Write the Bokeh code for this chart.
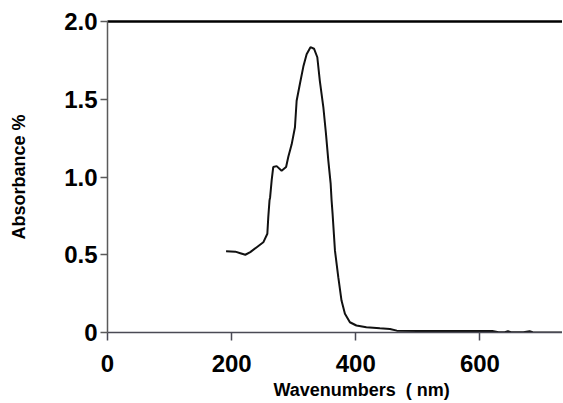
from bokeh.plotting import figure
from bokeh.models import Range1d, FixedTicker, LinearAxis, Title
from bokeh.embed import file_html
from bokeh.resources import INLINE

# Spectrum data
wavelength = [191, 206, 214, 222, 230, 241, 251, 257.5, 259, 261, 262, 264.5, 267,
              272.5, 280.5, 287.7, 291.3, 296.7, 302, 304.7, 310, 315.5, 320.8, 327,
              332.7, 338, 342, 347.7, 351.9, 355.7, 359.5, 361, 362.6, 366.4, 371.8,
              377, 382.5, 390.5, 401, 417, 438.8, 455, 466, 500, 560, 620, 630, 640,
              645, 650, 670, 680, 685, 690, 733]
absorbance = [0.523, 0.52, 0.51, 0.50, 0.517, 0.55, 0.58, 0.635, 0.74, 0.85, 0.87, 0.98,
              1.064, 1.07, 1.04, 1.064, 1.13, 1.21, 1.32, 1.49, 1.60, 1.71, 1.79, 1.835,
              1.825, 1.77, 1.62, 1.45, 1.28, 1.107, 0.957, 0.85, 0.764, 0.528, 0.356,
              0.205, 0.12, 0.066, 0.045, 0.034, 0.027, 0.023, 0.012, 0.01, 0.01, 0.01,
              0.002, 0.002, 0.008, 0.002, 0.002, 0.008, 0.002, 0.0, 0.0]

x_ticks = [0, 200, 400, 600]
y_ticks = [0, 0.5, 1.0, 1.5, 2.0]
y_tick_labels = ["0", "0.5", "1.0", "1.5", "2.0"]

FONT = "Liberation Sans"

p = figure(width=562, height=403, output_backend="svg", toolbar_location=None,
           x_range=Range1d(0, 733), y_range=Range1d(0, 2.0),
           min_border_left=107, min_border_right=0, min_border_top=21,
           min_border_bottom=71)
p.outline_line_color = None
p.xgrid.visible = False
p.ygrid.visible = False
p.background_fill_color = "white"

p.line(wavelength, absorbance, line_color="#111111", line_width=2)

bottom = p.below[0]
left = p.left[0]

# top border line at 2.0 (drawn as a bare axis so it is not clipped)
top = LinearAxis(ticker=FixedTicker(ticks=[]), axis_line_color="black",
                 axis_line_width=2.5, major_tick_line_color=None,
                 minor_tick_line_color=None, major_label_text_font_size="0px",
                 major_tick_out=0, major_tick_in=0, minor_tick_out=0,
                 minor_tick_in=0, major_label_standoff=0)
p.add_layout(top, "above")

for ax in (bottom, left):
    ax.major_label_text_font = FONT
    ax.major_label_text_font_style = "bold"
    ax.major_label_text_font_size = "24px"
    ax.major_label_text_color = "black"
    ax.minor_tick_line_color = None
    ax.major_tick_in = 0
    ax.axis_line_width = 1.5
    ax.major_tick_line_width = 1.5

bottom.ticker = FixedTicker(ticks=x_ticks)
bottom.major_tick_out = 8
bottom.major_label_standoff = 14
bottom.axis_line_color = "#4a4a55"
bottom.major_tick_line_color = "#4a4a55"

left.ticker = FixedTicker(ticks=y_ticks)
left.major_label_overrides = {t: l for t, l in zip(y_ticks, y_tick_labels)}
left.major_tick_out = 7
left.major_label_standoff = 3
left.axis_line_color = "#5a5a5a"
left.major_tick_line_color = "#5a5a5a"
left.axis_label = "Absorbance %"
left.axis_label_text_font = FONT
left.axis_label_text_font_style = "bold"
left.axis_label_text_font_size = "18px"
left.axis_label_text_color = "black"
left.axis_label_standoff = 32

xlabel = Title(text="Wavenumbers\u00a0 ( nm)", align="left", offset=166,
               text_font=FONT, text_font_style="bold", text_font_size="18px",
               text_color="black", standoff=6, text_line_height=0.7)
p.add_layout(xlabel, "below")

open("out.html", "w").write(file_html(p, INLINE))
